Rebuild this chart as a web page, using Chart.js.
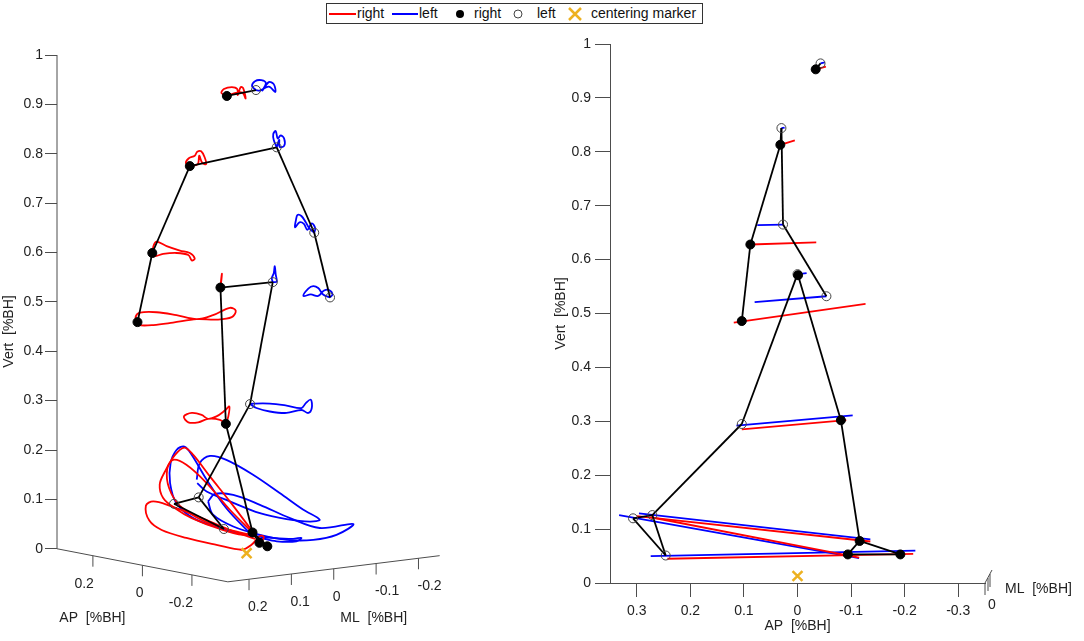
<!DOCTYPE html>
<html>
<head>
<meta charset="utf-8">
<script src="https://cdn.jsdelivr.net/npm/chart.js@4.4.1/dist/chart.umd.min.js"></script>
<style>
  body { margin: 0; background: #fff; width: 1084px; height: 641px; position: relative; overflow: hidden; }
  #leftBox { position: absolute; left: 0; top: 0; width: 470px; height: 641px; }
  #rightBox { position: absolute; left: 540px; top: 0; width: 544px; height: 641px; }
  #legend { position: absolute; left: 326px; top: 3px; width: 375px; height: 19px; border: 1px solid #333;
            background: #fff; font: 14px 'Liberation Sans', Arial, sans-serif; color: #111; }
  #legend span, #legend svg { position: absolute; }
  #legend span { top: 1px; line-height: 17px; }
</style>
</head>
<body>
<div id="leftBox"><canvas id="leftView"></canvas></div>
<div id="rightBox"><canvas id="sideView"></canvas></div>
<div id="legend">
  <svg style="left:1px;top:0" width="30" height="19"><line x1="1" y1="10" x2="28" y2="10" stroke="#f00" stroke-width="2"/></svg>
  <span style="left:30px">right</span>
  <svg style="left:64px;top:0" width="30" height="19"><line x1="1" y1="10" x2="27" y2="10" stroke="#00f" stroke-width="2"/></svg>
  <span style="left:92px">left</span>
  <svg style="left:126px;top:0" width="16" height="19"><circle cx="7" cy="10" r="4" fill="#000"/></svg>
  <span style="left:147px">right</span>
  <svg style="left:184px;top:0" width="16" height="19"><circle cx="7" cy="10" r="4" fill="none" stroke="#444" stroke-width="1"/></svg>
  <span style="left:210px">left</span>
  <svg style="left:240px;top:0" width="16" height="19"><path d="M2 4 L14 16 M14 4 L2 16" stroke="#EDB120" stroke-width="2.5"/></svg>
  <span style="left:264px">centering marker</span>
</div>
<script>
// joints, in the order head, shoulder, elbow, wrist, pelvis, knee, ankle, heel, toe
const jointNames = ['head', 'shoulder', 'elbow', 'wrist', 'pelvis', 'knee', 'ankle', 'heel', 'toe'];

// left view: 3D view projected on the screen, [horizontal, Vert] in %BH
const viewRight = [[0.344,0.917],[0.269,0.775],[0.193,0.599],[0.163,0.459],[0.331,0.529],[0.342,0.253],[0.396,0.033],[0.410,0.012],[0.426,0.005]];
const viewLeft  = [[0.403,0.929],[0.445,0.813],[0.521,0.640],[0.553,0.509],[0.437,0.540],[0.391,0.293],[0.287,0.104],[0.237,0.091],[0.338,0.040]];
const viewCenter = [0.384, -0.009];

// trajectories of the markers in the left view
const trajHeadR = [[0.344,0.917],[0.333,0.923],[0.338,0.931],[0.354,0.935],[0.365,0.931],[0.366,0.919],[0.372,0.935],[0.377,0.933],[0.382,0.912],[0.375,0.924],[0.360,0.923],[0.344,0.917]];
const trajHeadL = [[0.403,0.929],[0.395,0.937],[0.401,0.947],[0.414,0.949],[0.423,0.943],[0.416,0.928],[0.429,0.945],[0.439,0.941],[0.442,0.925],[0.429,0.936],[0.411,0.928],[0.403,0.929]];
const trajShoulderR = [[0.269,0.775],[0.261,0.781],[0.267,0.791],[0.279,0.796],[0.284,0.804],[0.292,0.805],[0.299,0.793],[0.302,0.779],[0.294,0.782],[0.288,0.796],[0.285,0.779],[0.269,0.775]];
const trajShoulderL = [[0.445,0.813],[0.439,0.828],[0.438,0.840],[0.443,0.846],[0.447,0.831],[0.453,0.837],[0.460,0.831],[0.460,0.816],[0.451,0.814],[0.450,0.828],[0.445,0.813]];
const trajElbowR = [[0.193,0.599],[0.196,0.615],[0.202,0.622],[0.222,0.613],[0.249,0.604],[0.269,0.599],[0.279,0.588],[0.273,0.584],[0.266,0.595],[0.242,0.599],[0.215,0.597],[0.195,0.592],[0.193,0.599]];
const trajElbowL = [[0.521,0.640],[0.511,0.649],[0.504,0.661],[0.495,0.674],[0.487,0.676],[0.484,0.666],[0.482,0.651],[0.491,0.661],[0.500,0.658],[0.507,0.646],[0.516,0.659],[0.523,0.649],[0.521,0.640]];
const trajWristR = [[0.163,0.459],[0.159,0.469],[0.168,0.478],[0.202,0.479],[0.242,0.473],[0.283,0.465],[0.316,0.473],[0.350,0.488],[0.362,0.482],[0.354,0.469],[0.323,0.464],[0.283,0.465],[0.235,0.458],[0.195,0.453],[0.165,0.453],[0.163,0.459]];
const trajWristL = [[0.553,0.509],[0.539,0.515],[0.529,0.528],[0.519,0.532],[0.509,0.527],[0.499,0.512],[0.514,0.515],[0.529,0.512],[0.541,0.523],[0.551,0.524],[0.558,0.515],[0.553,0.509]];
const trajPelvisR = [[0.331,0.529],[0.333,0.545],[0.334,0.557],[0.332,0.541],[0.331,0.529]];
const trajPelvisL = [[0.437,0.540],[0.435,0.548],[0.439,0.558],[0.441,0.572],[0.443,0.555],[0.445,0.541],[0.437,0.540]];
const trajKneeR = [[0.342,0.253],[0.347,0.268],[0.349,0.288],[0.340,0.280],[0.323,0.268],[0.306,0.263],[0.293,0.271],[0.273,0.275],[0.257,0.268],[0.266,0.256],[0.286,0.256],[0.306,0.263],[0.330,0.261],[0.342,0.253]];
const trajKneeL = [[0.391,0.293],[0.404,0.285],[0.431,0.278],[0.465,0.275],[0.495,0.281],[0.509,0.275],[0.516,0.285],[0.514,0.302],[0.504,0.295],[0.495,0.285],[0.465,0.290],[0.431,0.294],[0.397,0.294],[0.391,0.293]];
const trajFootR1 = [[0.396,0.035],[0.350,0.096],[0.310,0.146],[0.276,0.190],[0.258,0.205],[0.239,0.190],[0.219,0.157],[0.208,0.130],[0.215,0.103],[0.239,0.082],[0.273,0.062],[0.330,0.040],[0.377,0.028],[0.396,0.032]];
const trajFootR2 = [[0.397,0.032],[0.350,0.079],[0.303,0.133],[0.262,0.170],[0.235,0.180],[0.223,0.160],[0.227,0.123],[0.249,0.087],[0.296,0.057],[0.350,0.038],[0.394,0.028]];
const trajFootR3 = [[0.401,0.020],[0.350,0.038],[0.289,0.064],[0.229,0.087],[0.195,0.096],[0.180,0.087],[0.187,0.057],[0.212,0.038],[0.262,0.022],[0.323,0.008],[0.374,-0.002],[0.394,0.008],[0.411,0.026],[0.419,0.024],[0.414,0.013]];
const trajFootL1 = [[0.394,0.028],[0.343,0.082],[0.303,0.140],[0.273,0.190],[0.258,0.207],[0.242,0.200],[0.230,0.173],[0.229,0.133],[0.242,0.092],[0.276,0.062],[0.330,0.042],[0.384,0.028],[0.438,0.022],[0.478,0.020],[0.495,0.022],[0.485,0.015],[0.445,0.015],[0.411,0.022]];
const trajFootL2 = [[0.283,0.140],[0.289,0.173],[0.310,0.188],[0.343,0.180],[0.397,0.150],[0.451,0.113],[0.499,0.079],[0.532,0.059],[0.512,0.055],[0.465,0.060],[0.411,0.072],[0.350,0.096],[0.303,0.116],[0.284,0.133]];
const trajFootL3 = [[0.306,0.096],[0.320,0.111],[0.357,0.109],[0.411,0.089],[0.472,0.062],[0.532,0.042],[0.600,0.050],[0.566,0.028],[0.519,0.018],[0.465,0.018],[0.411,0.028],[0.357,0.045],[0.316,0.069],[0.306,0.096]];

// 3D box of the left view: AP and ML axes
const apTicks = [0.2, 0, -0.2];
const apRange = [0.345, -0.345];
const mlTicks = [0.2, 0.1, 0, -0.1, -0.2];
const mlRange = [0.25, -0.25];
const boxCorner0 = [0, 0];
const boxCorner1 = [0.346, -0.067];
const boxCorner2 = [0.775, -0.014];
const vertTicks = [0, 0.1, 0.2, 0.3, 0.4, 0.5, 0.6, 0.7, 0.8, 0.9, 1];

// right view: side view, [AP, Vert] in %BH
const sideRight = [[-0.034,0.953],[0.032,0.813],[0.088,0.628],[0.104,0.486],[-0.001,0.571],[-0.081,0.302],[-0.116,0.078],[-0.094,0.053],[-0.192,0.053]];
const sideLeft  = [[-0.043,0.964],[0.030,0.844],[0.027,0.665],[-0.054,0.532],[0.000,0.573],[0.104,0.295],[0.271,0.126],[0.307,0.120],[0.246,0.051]];
const sideCenter = [0, 0.013];
const sideTrajR = [
  [[-0.034,0.953],[-0.053,0.958]],
  [[0.032,0.813],[0.005,0.821]],
  [[0.088,0.628],[-0.035,0.632]],
  [[0.119,0.483],[-0.127,0.518]],
  [[0.104,0.285],[-0.091,0.302]],
  [[0.300,0.124],[-0.136,0.077]],
  [[0.274,0.122],[-0.115,0.047]],
  [[0.243,0.045],[-0.216,0.054]]
];
const sideTrajL = [
  [[-0.043,0.964],[-0.051,0.966]],
  [[0.030,0.844],[0.024,0.845]],
  [[0.075,0.664],[0.027,0.665]],
  [[0.080,0.521],[-0.054,0.532]],
  [[-0.001,0.573],[-0.017,0.575]],
  [[0.114,0.292],[-0.103,0.311]],
  [[0.333,0.126],[-0.115,0.046]],
  [[0.296,0.129],[-0.136,0.081]],
  [[0.274,0.050],[-0.220,0.060]]
];
const apTicksSide = [0.3, 0.2, 0.1, 0, -0.1, -0.2, -0.3];

// skeleton
const bonesOneSide = [['shoulder','elbow'],['elbow','wrist'],['pelvis','knee'],['knee','ankle'],['ankle','heel'],['heel','toe'],['ankle','toe']];
const bonesAcross = ['head', 'shoulder', 'pelvis'];

const RED = '#ff0000', BLUE = '#0000ff', CENTER = '#EDB120', AXIS = '#4d4d4d', TEXT = '#222';
const FONT = "'Liberation Sans', Arial, Helvetica, sans-serif";
Chart.defaults.font.family = FONT;
Chart.defaults.font.size = 14;
Chart.defaults.color = TEXT;

const fmt = v => String(Math.round(v * 10) / 10);
const pts = arr => arr.map(([x, y]) => ({x, y}));
const jIdx = name => jointNames.indexOf(name);

function lineDs(arr, color, width, order, tension) {
  return { data: pts(arr), showLine: true, borderColor: color, borderWidth: width,
           pointRadius: 0, tension: tension, order: order, clip: false, fill: false };
}

function skeleton(rightJ, leftJ) {
  const out = [];
  [rightJ, leftJ].forEach(side => {
    bonesOneSide.forEach(([a, b]) => out.push(lineDs([side[jIdx(a)], side[jIdx(b)]], '#000', 1.8, 1, 0)));
  });
  bonesAcross.forEach(n => out.push(lineDs([rightJ[jIdx(n)], leftJ[jIdx(n)]], '#000', 1.8, 1, 0)));
  return out;
}

function markers(rightJ, leftJ, center) {
  return [
    { data: pts(rightJ), pointRadius: 4.5, pointBackgroundColor: '#000', pointBorderColor: '#000', order: 0, clip: false },
    { data: pts(leftJ), pointRadius: 4.5, pointBackgroundColor: 'rgba(0,0,0,0)', pointBorderColor: '#444', pointBorderWidth: 1, order: 0, clip: false },
    { data: pts([center]), pointStyle: 'crossRot', pointRadius: 7, pointBorderColor: CENTER, pointBorderWidth: 2.5, order: 0, clip: false }
  ];
}

function strokeLine(ctx, p, q) {
  ctx.beginPath(); ctx.moveTo(p[0], p[1]); ctx.lineTo(q[0], q[1]); ctx.stroke();
}

// draws the vert axis line and the two slanted floor axes of the 3D view
const box3d = {
  id: 'box3d',
  beforeDatasetsDraw(chart) {
    const {ctx, scales: {x, y}} = chart;
    const px = p => [x.getPixelForValue(p[0]), y.getPixelForValue(p[1])];
    const c0 = px(boxCorner0), c1 = px(boxCorner1), c2 = px(boxCorner2);
    const along = (a, b, f) => [a[0] + (b[0] - a[0]) * f, a[1] + (b[1] - a[1]) * f];
    ctx.save();
    ctx.strokeStyle = AXIS; ctx.lineWidth = 1;
    strokeLine(ctx, px([0, 0]), px([0, 1]));
    strokeLine(ctx, c0, c1);
    strokeLine(ctx, c1, c2);
    ctx.fillStyle = TEXT; ctx.font = '14px ' + FONT; ctx.textBaseline = 'middle';
    ctx.textAlign = 'right';
    apTicks.forEach(v => {
      const p = along(c0, c1, (apRange[0] - v) / (apRange[0] - apRange[1]));
      strokeLine(ctx, p, [p[0], p[1] + 11]);
      ctx.fillText(fmt(v), p[0] + 1, p[1] + 28);
    });
    ctx.textAlign = 'left';
    mlTicks.forEach(v => {
      const p = along(c1, c2, (mlRange[0] - v) / (mlRange[0] - mlRange[1]));
      strokeLine(ctx, p, [p[0], p[1] + 11]);
      ctx.fillText(fmt(v), p[0] - 1, p[1] + 28);
    });
    ctx.textAlign = 'center';
    const apMid = along(c0, c1, 0.5), mlMid = along(c1, c2, 0.5);
    ctx.fillText('AP  [%BH]', apMid[0] - 50, 618);
    ctx.fillText('ML  [%BH]', mlMid[0] + 40, 618);
    ctx.restore();
  }
};

// edge-on ML axis at the right end of the side view
const mlStub = {
  id: 'mlStub',
  afterDraw(chart) {
    const {ctx, chartArea: a} = chart;
    ctx.save();
    ctx.strokeStyle = AXIS; ctx.lineWidth = 1;
    strokeLine(ctx, [a.right, a.bottom], [a.right + 7, a.bottom - 13]);
    strokeLine(ctx, [a.right, a.bottom], [a.right, a.bottom + 12]);
    strokeLine(ctx, [a.right + 3, a.bottom - 5], [a.right + 3, a.bottom + 8]);
    strokeLine(ctx, [a.right + 5, a.bottom - 9], [a.right + 5, a.bottom + 4]);
    ctx.fillStyle = TEXT; ctx.font = '14px ' + FONT; ctx.textBaseline = 'middle';
    ctx.textAlign = 'center';
    ctx.fillText('0', a.right + 7, a.bottom + 22);
    ctx.textAlign = 'left';
    ctx.fillText('ML  [%BH]', a.right + 20, a.bottom + 6);
    ctx.restore();
  }
};

const vertTickOpts = {
  afterBuildTicks: s => { s.ticks = vertTicks.map(v => ({value: v})); },
  ticks: { callback: v => fmt(v), color: TEXT, font: {size: 14} },
  grid: { drawOnChartArea: false, drawTicks: true, color: AXIS }
};

// ---------- left: 3D view ----------
const leftSets = [
  ...markers(viewRight, viewLeft, viewCenter),
  ...skeleton(viewRight, viewLeft),
  ...[trajHeadR, trajShoulderR, trajElbowR, trajWristR, trajPelvisR, trajKneeR, trajFootR1, trajFootR2, trajFootR3]
      .map(t => lineDs(t, RED, 1.8, 2, 0.35)),
  ...[trajHeadL, trajShoulderL, trajElbowL, trajWristL, trajPelvisL, trajKneeL, trajFootL1, trajFootL2, trajFootL3]
      .map(t => lineDs(t, BLUE, 1.8, 3, 0.35))
];

new Chart(document.getElementById('leftView'), {
  type: 'scatter',
  data: { datasets: leftSets },
  options: {
    responsive: true, maintainAspectRatio: false, animation: false, events: [],
    layout: { padding: { top: 55, right: 18, bottom: 33, left: 0 } },
    plugins: { legend: { display: false }, tooltip: { enabled: false } },
    scales: {
      x: { type: 'linear', min: 0, max: 0.8, display: false },
      y: {
        type: 'linear', min: -0.12, max: 1,
        afterFit: s => { s.width = 57; },
        afterBuildTicks: vertTickOpts.afterBuildTicks,
        ticks: { ...vertTickOpts.ticks, padding: 2 },
        grid: { ...vertTickOpts.grid, tickLength: 12 },
        border: { display: false },
        title: { display: true, text: 'Vert  [%BH]', color: TEXT, font: {size: 14}, padding: {top: 1, bottom: 0} }
      }
    }
  },
  plugins: [box3d]
});

// ---------- right: side view ----------
const sideSets = [
  ...markers(sideRight, sideLeft, sideCenter),
  ...skeleton(sideRight, sideLeft),
  ...sideTrajR.map(t => lineDs(t, RED, 1.8, 2, 0)),
  ...sideTrajL.map(t => lineDs(t, BLUE, 1.8, 3, 0))
];

new Chart(document.getElementById('sideView'), {
  type: 'scatter',
  data: { datasets: sideSets },
  options: {
    responsive: true, maintainAspectRatio: false, animation: false, events: [],
    layout: { padding: { top: 44, right: 99, bottom: 0, left: 0 } },
    plugins: { legend: { display: false }, tooltip: { enabled: false } },
    scales: {
      x: {
        type: 'linear', min: -0.35, max: 0.35, reverse: true,
        afterFit: s => { s.height = 58; },
        afterBuildTicks: s => { s.ticks = apTicksSide.map(v => ({value: v})); },
        ticks: { callback: v => fmt(v), color: TEXT, padding: 6, maxRotation: 0 },
        grid: { drawOnChartArea: false, drawTicks: true, tickLength: 14, color: AXIS },
        border: { color: AXIS },
        title: { display: true, text: 'AP  [%BH]', color: TEXT, padding: {top: 0, bottom: 6} }
      },
      y: {
        type: 'linear', min: 0, max: 1,
        afterFit: s => { s.width = 70; },
        afterBuildTicks: vertTickOpts.afterBuildTicks,
        ticks: { ...vertTickOpts.ticks, padding: 4 },
        grid: { ...vertTickOpts.grid, tickLength: 15 },
        border: { color: AXIS },
        title: { display: true, text: 'Vert  [%BH]', color: TEXT, padding: {top: 13, bottom: 0} }
      }
    }
  },
  plugins: [mlStub]
});
</script>
</body>
</html>
